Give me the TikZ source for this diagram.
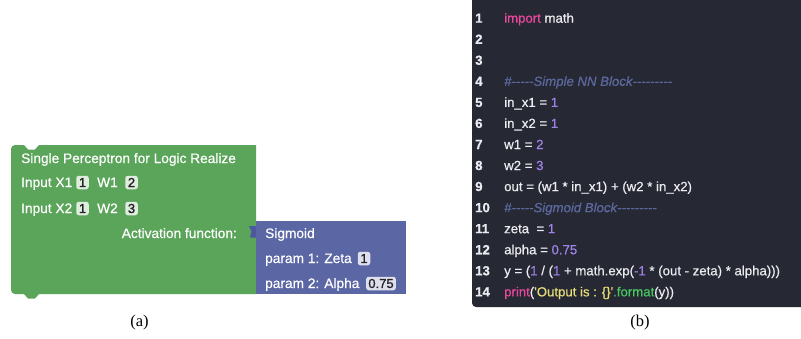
\documentclass[tikz,border=0pt]{standalone}
\usepackage{fontspec}
\setmainfont{Liberation Serif}
\newfontfamily\blockfont[FakeBold=0.5]{Liberation Sans}
\newfontfamily\chipfont[FakeBold=1.2]{Liberation Sans}
\newfontfamily\codefont[Ligatures=TeXOff, FakeBold=0.6]{Liberation Sans}

% palette
\definecolor{blockgreen}{RGB}{91,165,91}
\definecolor{blockblue}{RGB}{91,103,165}
\definecolor{tabblue}{RGB}{76,88,160}
\definecolor{chiptext}{RGB}{35,35,35}
\definecolor{editorbg}{RGB}{38,40,52}
\definecolor{plaincode}{RGB}{236,236,240}
\definecolor{kwpink}{RGB}{232,72,156}
\definecolor{numpurple}{RGB}{160,130,232}
\definecolor{cmtgray}{RGB}{92,104,156}
\definecolor{stryellow}{RGB}{230,222,120}
\definecolor{fngreen}{RGB}{72,200,96}

% syntax colouring helpers
\newcommand\cdkw[1]{\textcolor{kwpink}{#1}}
\newcommand\cdnum[1]{\textcolor{numpurple}{#1}}
\newcommand\cdcmt[1]{\textcolor{cmtgray}{\itshape #1}}
\newcommand\cdstr[1]{\textcolor{stryellow}{#1}}
\newcommand\cdfn[1]{\textcolor{fngreen}{#1}}

\tikzset{
  blocktext/.style={anchor=base west, inner sep=0pt, text=white,
    font=\blockfont\fontsize{13.7bp}{16bp}\selectfont},
  chip/.style={draw=none, fill=white, fill opacity=0.8, text opacity=1,
    text=chiptext, rounded corners=2.5bp, inner xsep=2.2bp, inner ysep=1bp,
    minimum height=13.5bp, minimum width=12.5bp,
    font=\chipfont\fontsize{13bp}{14bp}\selectfont},
  lineno/.style={anchor=base west, inner sep=0pt, text=plaincode,
    font=\codefont\bfseries\fontsize{13.2bp}{15bp}\selectfont},
  codeline/.style={anchor=base west, inner sep=0pt, text=plaincode,
    font=\codefont\fontsize{13.2bp}{15bp}\selectfont},
  caption/.style={inner sep=0pt, font=\fontsize{16.5bp}{19bp}\selectfont}
}

\begin{document}
\begin{tikzpicture}[x=1bp, y=-1bp]
\useasboundingbox[fill=white] (0,0) rectangle (801,338);

% ---------- (a) block program ----------
% perceptron block with top notch and bottom tab
\fill[blockgreen]
  (15,145) -- (24,145) -- (28,149.5) -- (35,149.5) -- (39,145) -- (256,145)
  -- (256,294) -- (39,294) -- (35,298.5) -- (28,298.5) -- (24,294) -- (15,294)
  arc[start angle=90, end angle=180, radius=4] -- (11,149)
  arc[start angle=180, end angle=270, radius=4] -- cycle;

% sigmoid block plugged into the activation input
\fill[blockblue] (256,221) rectangle (406,294);
\fill[tabblue] (256,226) -- (249,226) -- (251.5,231.5) -- (250,237.5) -- (256,237.5) -- cycle;

\node[blocktext] (title) at (21,163) {Single Perceptron for Logic Realize};

\node[blocktext] (inx1) at (21,187) {Input X1};
\node[chip] (x1val) at (82.5,182.5) {1};
\node[blocktext] (w1lbl) at (97,187) {W1};
\node[chip] (w1val) at (131.5,182.5) {2};

\node[blocktext] (inx2) at (21,213) {Input X2};
\node[chip] (x2val) at (82.5,208.5) {1};
\node[blocktext] (w2lbl) at (97,213) {W2};
\node[chip] (w2val) at (131.5,208.5) {3};

\node[blocktext, anchor=base east] (act) at (237,238) {Activation function:};

\node[blocktext] (sig) at (265,238) {Sigmoid};
\node[blocktext] (p1) at (265,263) {param 1: Zeta};
\node[chip] (zetaval) at (364,258.5) {1};
\node[blocktext] (p2) at (265,288) {param 2: Alpha};
\node[chip] (alphaval) at (381,283.5) {0.75};

\node[caption] (capa) at (139.5,323) {(a)};

% ---------- (b) generated Python code ----------
\fill[editorbg] (801,0) -- (472,0) -- (472,303)
  arc[start angle=180, end angle=90, radius=4] -- (801,307) -- cycle;

\foreach \n in {1,...,14} {
  \node[lineno] (ln\n) at (475,{22.7+(\n-1)*21.05}) {\n};
}

\node[codeline] (c1)  at (504,22.7)  {\cdkw{import} math};
\node[codeline] (c4)  at (504,85.85) {\cdcmt{\#-----Simple NN Block---------}};
\node[codeline] (c5)  at (504,106.9) {in\_x1 = \cdnum{1}};
\node[codeline] (c6)  at (504,127.95){in\_x2 = \cdnum{1}};
\node[codeline] (c7)  at (504,149.0) {w1 = \cdnum{2}};
\node[codeline] (c8)  at (504,170.05){w2 = \cdnum{3}};
\node[codeline] (c9)  at (504,191.1) {out = (w1 * in\_x1) + (w2 * in\_x2)};
\node[codeline] (c10) at (504,212.15){\cdcmt{\#-----Sigmoid Block---------}};
\node[codeline] (c11) at (504,233.2) {zeta\ \ = \cdnum{1}};
\node[codeline] (c12) at (504,254.25){alpha = \cdnum{0.75}};
\node[codeline] (c13) at (504,275.3) {y = (\cdnum{1} / (\cdnum{1} + math.exp(\cdnum{-1} * (out - zeta) * alpha)))};
\node[codeline] (c14) at (504,296.35){\cdkw{print}(\cdstr{\textquotesingle Output is : \{\}\textquotesingle}\cdfn{.format}(y))};

\node[caption] (capb) at (640,323) {(b)};
\end{tikzpicture}
\end{document}
